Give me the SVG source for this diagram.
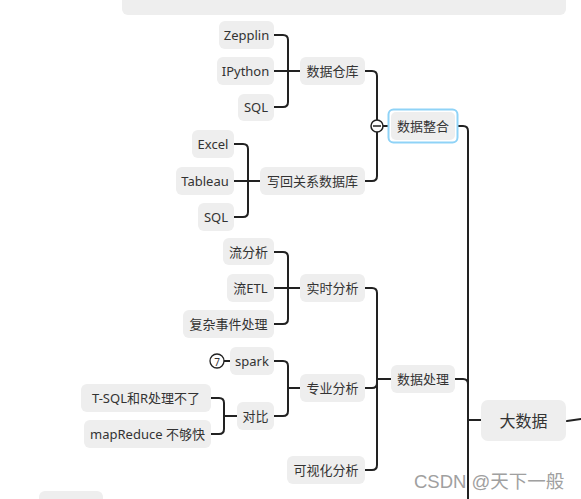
<svg xmlns="http://www.w3.org/2000/svg" width="581" height="499" viewBox="0 0 581 499">
<style>
.n rect{fill:#eeeeee;}
.n text{font-family:"Noto Sans","Noto Sans CJK SC",sans-serif;font-size:13px;fill:#333;text-anchor:middle;dominant-baseline:central;}
.c path{fill:none;stroke:#222;stroke-width:2;stroke-linecap:round;}
</style>
<rect x="122" y="-12" width="444" height="27" rx="6" fill="#eeeeee"/>
<g class="c" id="connectors">
<path d="M458 126 H463 Q468 126 468 131 V499"/>
<path d="M455 379 H463 Q468 379 468 384"/>
<path d="M468 420 H481"/>
<path d="M567 421 L581 419"/>
<path d="M365 71 H372 Q377 71 377 76 V176 Q377 181 372 181 H365"/>
<path d="M377 126 H388"/>
<path d="M274 35 H283 Q288 35 288 40 V102 Q288 107 283 107 H274"/>
<path d="M274 71 H300"/>
<path d="M234 144 H243 Q248 144 248 149 V212 Q248 217 243 217 H234"/>
<path d="M234 181 H260"/>
<path d="M365 288 H372 Q377 288 377 293 V465 Q377 470 372 470 H365"/>
<path d="M377 379 H391"/>
<path d="M365 388 H372 Q377 388 377 383"/>
<path d="M274 252 H283 Q288 252 288 257 V319 Q288 324 283 324 H274"/>
<path d="M274 288 H300"/>
<path d="M274 361 H283 Q288 361 288 366 V411 Q288 416 283 416 H274"/>
<path d="M288 388 H300"/>
<path d="M211 398 H219 Q224 398 224 403 V429 Q224 434 219 434 H211"/>
<path d="M224 416 H237"/>
<path d="M224 361 H230"/>
</g>
<g id="collapse">
<circle cx="377" cy="126" r="6" fill="#fff" stroke="#222" stroke-width="1.5"/>
<path d="M373 126 H381" stroke="#222" stroke-width="1.5"/>
</g>
<g id="n-root" class="n"><rect x="481" y="400" width="85" height="41" rx="7"/><text x="523.5" y="420.5" style="font-size:16px">大数据</text></g>
<g id="n-zhenghe" class="n"><rect x="388.5" y="109.5" width="69" height="33" rx="5" fill="none" stroke="#8fd3f7" stroke-width="2" style="fill:none"/><rect x="391" y="112" width="64" height="28" rx="5"/><text x="423" y="126">数据整合</text></g>
<g id="n-cangku" class="n"><rect x="300" y="57" width="65" height="28" rx="6"/><text x="332.5" y="71">数据仓库</text></g>
<g id="n-xiehui" class="n"><rect x="260" y="167" width="105" height="28" rx="6"/><text x="312.5" y="181">写回关系数据库</text></g>
<g id="n-zepplin" class="n"><rect x="219" y="21" width="55" height="28" rx="6"/><text x="246.5" y="35">Zepplin</text></g>
<g id="n-ipython" class="n"><rect x="217" y="57" width="57" height="28" rx="6"/><text x="245.5" y="71">IPython</text></g>
<g id="n-sql1" class="n"><rect x="238" y="94" width="36" height="27" rx="6"/><text x="256" y="107">SQL</text></g>
<g id="n-excel" class="n"><rect x="192" y="130" width="42" height="28" rx="6"/><text x="213" y="144">Excel</text></g>
<g id="n-tableau" class="n"><rect x="176" y="167" width="58" height="28" rx="6"/><text x="205" y="181">Tableau</text></g>
<g id="n-sql2" class="n"><rect x="198" y="203" width="36" height="28" rx="6"/><text x="216" y="217">SQL</text></g>
<g id="n-chuli" class="n"><rect x="391" y="365" width="64" height="28" rx="6"/><text x="423" y="379">数据处理</text></g>
<g id="n-shishi" class="n"><rect x="300" y="274" width="65" height="28" rx="6"/><text x="332.5" y="288">实时分析</text></g>
<g id="n-zhuanye" class="n"><rect x="300" y="374" width="65" height="28" rx="6"/><text x="332.5" y="388">专业分析</text></g>
<g id="n-keshihua" class="n"><rect x="287" y="456" width="78" height="28" rx="6"/><text x="326" y="470">可视化分析</text></g>
<g id="n-liufenxi" class="n"><rect x="223" y="238" width="51" height="27" rx="6"/><text x="248.5" y="252">流分析</text></g>
<g id="n-liuetl" class="n"><rect x="227" y="274" width="47" height="28" rx="6"/><text x="250.5" y="288">流ETL</text></g>
<g id="n-fuza" class="n"><rect x="183" y="310" width="91" height="28" rx="6"/><text x="228.5" y="324">复杂事件处理</text></g>
<g id="n-spark" class="n"><rect x="230" y="347" width="44" height="28" rx="6"/><text x="252" y="361">spark</text></g>
<g id="n-duibi" class="n"><rect x="237" y="402" width="37" height="28" rx="6"/><text x="255.5" y="416">对比</text></g>
<g id="n-tsql" class="n"><rect x="81" y="384" width="130" height="28" rx="6"/><text x="146" y="398">T-SQL和R处理不了</text></g>
<g id="n-mapreduce" class="n"><rect x="84" y="420" width="127" height="28" rx="6"/><text x="147.5" y="434">mapReduce 不够快</text></g>
<g id="marker-7">
<circle cx="217" cy="361" r="7" fill="#fff" stroke="#222" stroke-width="1.3"/>
<text x="217" y="361.5" font-family="Noto Sans, sans-serif" font-size="10" fill="#333" text-anchor="middle" dominant-baseline="central">7</text>
</g>
<g id="n-partial" class="n"><rect x="39" y="491" width="64" height="20" rx="6"/></g>
<text x="414" y="488" font-family="Liberation Sans, Noto Sans CJK SC, sans-serif" font-size="18.5" fill="#a0a0a0">CSDN @天下一般</text>
</svg>
